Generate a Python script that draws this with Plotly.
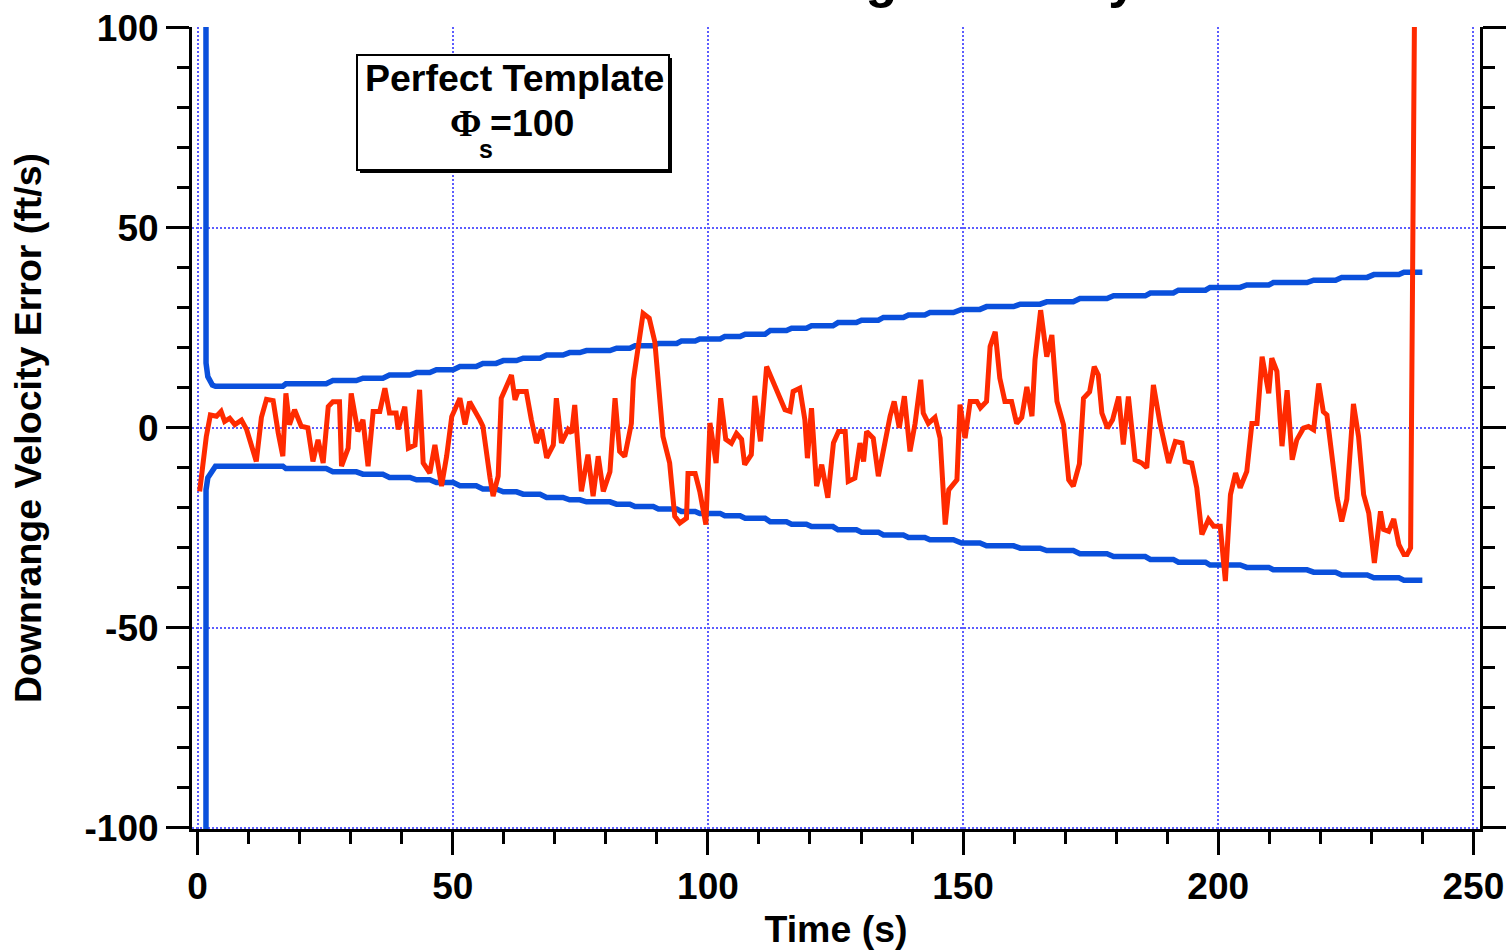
import plotly.graph_objects as go

# ---- data -------------------------------------------------------------
# Downrange velocity error of the filter (ft/s) versus time (s)
err_t = [0.4, 1.7, 2.5, 3.7, 4.6, 5.3, 6.3, 7.3, 8.6, 9.6, 11.5, 12.5, 13.5, 14.8,
         15.8, 16.7, 17.3, 18.0, 19.0, 20.3, 21.6, 22.6, 23.6, 24.6, 25.6, 26.5,
         27.8, 28.2, 29.5, 30.1, 31.4, 32.4, 33.4, 34.4, 35.7, 36.7, 37.6, 38.9,
         39.3, 40.6, 41.3, 42.6, 43.5, 44.2, 45.5, 46.5, 47.8, 48.8, 49.8, 51.4,
         52.4, 53.3, 55.3, 55.9, 57.3, 57.9, 58.9, 59.5, 61.5, 62.2, 62.8, 64.4,
         65.4, 66.4, 67.4, 68.4, 69.7, 70.3, 71.3, 72.6, 73.3, 73.9, 75.2, 76.5,
         77.5, 78.5, 79.5, 80.8, 81.8, 82.7, 83.7, 85.0, 85.4, 86.3, 87.3, 88.5,
         89.6, 91.2, 92.5, 93.5, 94.5, 95.8, 96.1, 97.5, 98.4, 99.6, 100.4, 101.6,
         102.5, 103.5, 104.6, 105.6, 106.6, 107.2, 108.5, 109.2, 110.3, 111.5,
         112.8, 114.1, 115.1, 116.1, 116.7, 118.0, 119.0, 119.5, 120.3, 121.3,
         122.3, 123.5, 124.6, 125.6, 126.9, 127.5, 128.8, 129.8, 130.5, 131.1,
         132.4, 133.4, 134.4, 135.7, 136.5, 137.5, 138.5, 139.6, 140.6, 141.7,
         142.2, 143.2, 144.5, 145.5, 146.5, 147.2, 148.8, 149.4, 150.4, 151.4,
         152.7, 153.4, 154.6, 155.3, 156.3, 157.2, 158.2, 159.5, 160.5, 161.5,
         162.5, 163.5, 164.1, 165.2, 166.4, 167.4, 168.4, 169.7, 170.7, 171.6,
         172.8, 173.6, 174.8, 175.7, 176.5, 177.2, 178.3, 179.3, 180.5, 181.4,
         182.4, 183.7, 185.0, 186.0, 187.3, 188.6, 190.3, 191.6, 192.9, 193.5,
         194.8, 195.8, 196.8, 198.1, 199.1, 200.4, 201.4, 202.4, 203.4, 204.3,
         205.6, 206.6, 207.6, 208.6, 209.9, 210.5, 211.5, 212.5, 213.5, 214.5,
         215.4, 216.7, 217.7, 218.7, 219.7, 220.6, 221.3, 222.3, 223.3, 224.2,
         225.2, 226.5, 227.5, 228.5, 229.5, 230.6, 231.8, 232.4, 233.4, 234.4,
         235.4, 236.4, 237.0, 237.7, 238.5]
err_v = [-15.9, -2.2, 3.2, 2.9, 4.1, 1.6, 2.4, 0.8, 1.9, -0.4, -8.4, 2.6, 7.1, 6.8,
         -1.3, -7.1, 8.6, 0.8, 4.5, 0.4, 0.0, -8.4, -3.0, -8.8, 5.3, 6.5,
         6.5, -9.6, -5.1, 8.6, -0.9, 2.0, -9.6, 4.1, 4.1, 9.9, 3.7, 3.7,
         -0.4, 5.3, -5.1, -4.3, 9.5, -8.8, -11.3, -4.3, -14.6, -7.1, 2.8, 7.4,
         0.8, 6.5, 2.0, 0.4, -12.5, -17.1, -12.1, 7.4, 13.2, 7.0, 9.1, 9.1,
         2.0, -3.8, -0.4, -7.5, -4.3, 7.4, -3.8, -0.4, -1.3, 5.7, -15.9, -6.7,
         -17.1, -7.1, -15.9, -11.0, 7.4, -5.9, -7.2, 1.1, 12.0, 20.3, 28.6, 27.4,
         21.5, -2.2, -8.8, -22.1, -23.8, -22.6, -11.4, -11.4, -15.9, -24.2, 1.2, -8.8,
         7.4, -2.9, -3.9, -1.4, -2.9, -9.2, -6.7, 8.0, -3.4, 15.3,
         11.2, 7.0, 4.5, 4.1, 9.1, 9.9, 2.0, -7.6, 4.9, -14.6,
         -9.2, -17.5, -3.8, -0.9, -0.9, -13.4, -12.6, -3.8, -8.4, -0.9,
         -2.6, -12.1, -5.5, 2.9, 6.6, 0.0, 7.9, -5.9, 1.1, 12.0,
         3.7, 1.1, 2.6, -2.6, -24.2, -15.5, -13.0, 5.8, -2.6, 6.6,
         6.6, 5.0, 6.6, 20.3, 24.0, 12.4, 6.6, 6.6, 1.1, 2.6,
         10.2, 2.9, 17.0, 29.4, 17.8, 23.2, 6.6, 0.7, -13.0, -14.6,
         -9.0, 7.4, 9.0, 15.3, 13.2, 3.7, -0.1, 2.0, 7.8, -4.2,
         7.8, -8.0, -8.8, -10.0, 10.7, 1.1, -8.8, -3.4, -3.8, -8.4,
         -8.8, -15.0, -26.7, -22.9, -24.6, -24.6, -38.3, -16.7, -11.3, -15.0,
         -10.9, 1.1, 1.1, 17.8, 8.6, 17.4, 14.1, -4.6, 9.4, -8.0,
         -3.0, -0.1, 0.3, -0.5, 11.1, 4.0, 3.2, -7.2, -17.5, -23.4,
         -17.9, 6.0, -2.2, -16.7, -21.3, -33.8, -20.9, -25.4, -25.9, -22.8,
         -29.2, -31.7, -31.7, -30.0, 110.0]

# Error bounds (ft/s): shared time base, upper and lower envelopes
bound_t = [1.6, 1.65, 2.0, 2.9, 3.5,
           16.7, 17.3, 25.2, 26.5, 31.1, 32.4, 36.3, 37.6, 41.6, 42.9, 45.5, 46.8,
           50.1, 51.4, 54.6, 55.9, 58.5, 59.9, 62.5, 63.8, 67.1, 68.4, 71.6, 72.9,
           74.9, 76.2, 80.8, 82.1, 84.7, 85.7, 89.3, 90.3, 93.9, 94.8, 97.5, 98.4,
           102.4, 103.3, 106.3, 107.3, 111.2, 112.2, 115.4, 116.4, 119.3, 120.3,
           124.5, 125.5, 129.1, 130.1, 133.4, 134.4, 138.3, 139.3, 142.5, 143.5,
           148.1, 149.7, 153.3, 154.6, 159.9, 161.2, 165.1, 166.4, 171.6, 172.9,
           178.2, 179.5, 185.7, 186.7, 191.2, 192.2, 197.5, 198.4, 204.3, 205.6,
           209.9, 210.8, 217.4, 218.7, 223.0, 224.2, 229.2, 230.5, 235.4, 236.4,
           240.0]
upper_bound = [400.0, 16.2, 12.8, 10.7, 10.4,
               10.4, 11.0, 11.0, 11.8, 11.8, 12.4, 12.4, 13.2, 13.2, 13.8, 13.8, 14.5,
               14.5, 15.3, 15.3, 16.1, 16.1, 16.8, 16.8, 17.4, 17.4, 18.2, 18.2, 18.8,
               18.8, 19.3, 19.3, 19.9, 19.9, 20.5, 20.5, 21.1, 21.1, 21.7, 21.7, 22.2,
               22.2, 22.8, 22.8, 23.4, 23.4, 24.3, 24.3, 24.9, 24.9, 25.5,
               25.5, 26.3, 26.3, 26.9, 26.9, 27.6, 27.6, 28.2, 28.2, 28.8,
               28.8, 29.6, 29.6, 30.3, 30.3, 30.9, 30.9, 31.5, 31.5, 32.3,
               32.3, 33.0, 33.0, 33.7, 33.7, 34.4, 34.4, 35.1, 35.1, 35.7,
               35.7, 36.3, 36.3, 36.9, 36.9, 37.6, 37.6, 38.3, 38.3, 38.9,
               38.9]
lower_bound = [-400.0, -15.5, -12.5, -10.4, -9.6,
               -9.6, -10.2, -10.2, -11.0, -11.0, -11.6, -11.6, -12.4, -12.4, -13.0, -13.0, -13.7,
               -13.7, -14.5, -14.5, -15.3, -15.3, -16.0, -16.0, -16.6, -16.6, -17.4, -17.4, -18.0,
               -18.0, -18.5, -18.5, -19.1, -19.1, -19.7, -19.7, -20.3, -20.3, -20.9, -20.9, -21.4,
               -21.4, -22.0, -22.0, -22.6, -22.6, -23.5, -23.5, -24.1, -24.1, -24.7,
               -24.7, -25.5, -25.5, -26.1, -26.1, -26.8, -26.8, -27.4, -27.4, -28.0,
               -28.0, -28.8, -28.8, -29.5, -29.5, -30.1, -30.1, -30.7, -30.7, -31.5,
               -31.5, -32.2, -32.2, -32.9, -32.9, -33.6, -33.6, -34.3, -34.3, -34.9,
               -34.9, -35.5, -35.5, -36.1, -36.1, -36.8, -36.8, -37.5, -37.5, -38.1,
               -38.1]

x_ticks = [0, 50, 100, 150, 200, 250]
y_ticks = [-100, -50, 0, 50, 100]
y_tick_text = ["-100", "-50", "0", "50", "100"]

# ---- styling ------------------------------------------------------------
RED = "#FF2A00"
BLUE = "#0A50DC"
GRID = "#5C5CFF"
FONT = "Liberation Sans"

# plot-area geometry in page pixels (used for annotation placement)
W, H = 1507, 950
L, R, T, B = 192, 27, 27, 121
PW, PH = W - L - R, H - T - B


def px(xp):
    return (xp - L) / PW


def py(yp):
    return (H - B - yp) / PH


fig = go.Figure()
fig.add_trace(go.Scatter(x=bound_t, y=upper_bound, mode="lines",
                         line=dict(color=BLUE, width=5.5), hoverinfo="skip"))
fig.add_trace(go.Scatter(x=bound_t, y=lower_bound, mode="lines",
                         line=dict(color=BLUE, width=5.5), hoverinfo="skip"))
fig.add_trace(go.Scatter(x=err_t, y=err_v, mode="lines",
                         line=dict(color=RED, width=5), hoverinfo="skip"))

tick_font = dict(family=FONT, size=37, color="black", weight="bold")
title_font = dict(family=FONT, size=37.5, color="black", weight="bold")

common = dict(
    showline=True, linecolor="black", linewidth=3,
    ticks="outside", ticklen=23, tickwidth=2.5, tickcolor="black",
    showgrid=True, gridcolor=GRID, gridwidth=2, griddash="2px,2px",
    zeroline=False, tickfont=tick_font,
)

fig.update_xaxes(
    range=[-1.1, 251.3], tickvals=x_ticks, mirror=False,
    minor=dict(dtick=10, tick0=0, ticks="outside", ticklen=12, tickwidth=2.5,
               tickcolor="black", showgrid=False),
    title=dict(text="Time (s)", font=title_font, standoff=12),
    **common,
)
fig.update_yaxes(
    range=[-100.3, 100.2], tickvals=y_ticks, ticktext=y_tick_text, mirror="ticks",
    minor=dict(dtick=10, tick0=0, ticks="outside", ticklen=12, tickwidth=2.5,
               tickcolor="black", showgrid=False),
    title=dict(text="Downrange Velocity Error (ft/s)", font=title_font, standoff=32),
    **common,
)

# label box with a drop shadow
bx0, bx1, by0, by1 = 357, 669, 55, 170
fig.add_shape(type="rect", xref="paper", yref="paper",
              x0=px(bx0 + 3), x1=px(bx1 + 3), y0=py(by1 + 3), y1=py(by0 + 3),
              fillcolor="black", line=dict(width=0))
fig.add_shape(type="rect", xref="paper", yref="paper",
              x0=px(bx0), x1=px(bx1), y0=py(by1), y1=py(by0),
              fillcolor="white", line=dict(color="black", width=2))

box_font = dict(family=FONT, size=37.5, color="black", weight="bold")
fig.add_annotation(xref="paper", yref="paper", x=px(514), y=py(78),
                   text="Perfect Template", showarrow=False, font=box_font,
                   xanchor="center", yanchor="middle", borderpad=0)
fig.add_annotation(xref="paper", yref="paper", x=px(483), y=py(123),
                   text="Φ", showarrow=False,
                   font=dict(family="Liberation Serif", size=38, color="black", weight="bold"),
                   xanchor="right", yanchor="middle", borderpad=0)
fig.add_annotation(xref="paper", yref="paper", x=px(486), y=py(149),
                   text="s", showarrow=False,
                   font=dict(family=FONT, size=25, color="black", weight="bold"),
                   xanchor="center", yanchor="middle", borderpad=0)
fig.add_annotation(xref="paper", yref="paper", x=px(489), y=py(123),
                   text="=100", showarrow=False, font=box_font,
                   xanchor="left", yanchor="middle", borderpad=0)

# chart title, running off the top edge of the page
fig.add_annotation(xref="paper", yref="paper", x=px(642), y=py(9),
                   text="Downrange Velocity Estimates", showarrow=False,
                   font=dict(family=FONT, size=52, color="black", weight="bold"),
                   xanchor="left", yanchor="bottom", borderpad=0)

fig.update_layout(
    width=W, height=H,
    margin=dict(l=L, r=R, t=T, b=B, autoexpand=False),
    plot_bgcolor="white", paper_bgcolor="white",
    showlegend=False,
)

fig.write_html("out.html", config={"displayModeBar": False})
